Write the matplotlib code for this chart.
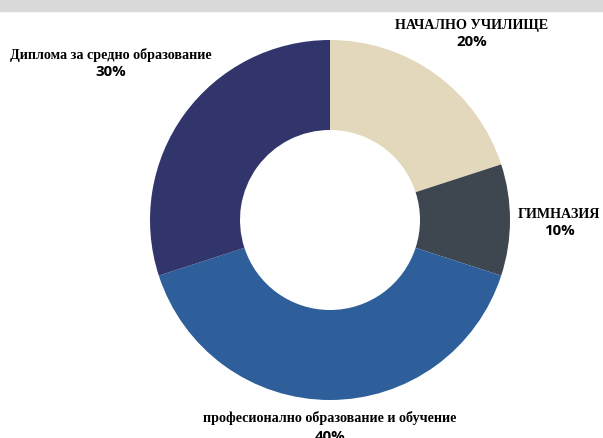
import matplotlib.pyplot as plt
from matplotlib.patches import Rectangle

categories = ["НАЧАЛНО УЧИЛИЩЕ", "ГИМНАЗИЯ", "професионално образование и обучение",
              "Диплома за средно образование"]
shares = [20, 10, 40, 30]
colors = ["#E3D8BC", "#3E4650", "#2E5F9A", "#32356B"]

W, H = 603, 439
fig = plt.figure(figsize=(W / 100, H / 100), dpi=100)

# grey band at top
fig.patches.append(Rectangle((0, 1 - 12 / H), 1, 12 / H, transform=fig.transFigure,
                             color="#D9D9D9", zorder=0))

cx, cy, r = 330, 221, 180
ax = fig.add_axes([(cx - r) / W, 1 - (cy + r) / H, 2 * r / W, 2 * r / H])
ax.pie(shares, colors=colors, startangle=90, counterclock=False,
       wedgeprops=dict(width=0.5, linewidth=0))
ax.set_xlim(-1, 1)
ax.set_ylim(-1, 1)
ax.set_aspect("equal")
ax.axis("off")

# label baselines in pixels: (x centre, name baseline, percent baseline)
label_pos = [(472, 28.5, 46), (559, 218, 235), (330, 422.5, 441), (110.5, 58.5, 76)]
for name, val, (x, y1, y2) in zip(categories, shares, label_pos):
    fig.text(x / W, 1 - y1 / H, name, ha="center", va="baseline",
             family="Liberation Serif", fontweight="bold", fontsize=10.2)
    fig.text(x / W, 1 - y2 / H, f"{val}%", ha="center", va="baseline",
             family="Open Sans", fontweight="bold", fontsize=10.8)

fig.savefig("out.png", dpi=100)
